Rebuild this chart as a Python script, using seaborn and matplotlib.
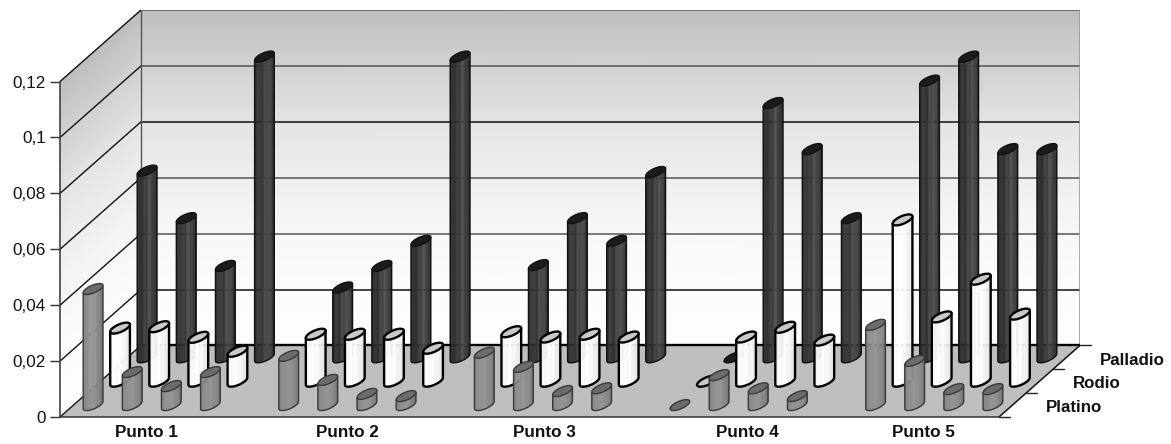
import numpy as np
import matplotlib
matplotlib.use('Agg')
import matplotlib.pyplot as plt
import seaborn as sns
from matplotlib.collections import PolyCollection

sns.set_theme(style='white', font='Liberation Sans')

nan = np.nan

# every point has 4 measurements and one empty slot
platino = [0.0415, 0.0118, 0.0068, 0.0118, nan,
           0.0176, 0.0090, 0.0040, 0.0032, nan,
           0.0187, 0.0137, 0.0050, 0.0060, nan,
           0.0000, 0.0107, 0.0060, 0.0032, nan,
           0.0287, 0.0158, 0.0057, 0.0057]
rodio = [0.0190, 0.0195, 0.0157, 0.0107, nan,
         0.0168, 0.0168, 0.0168, 0.0118, nan,
         0.0177, 0.0158, 0.0168, 0.0158, nan,
         0.0000, 0.0158, 0.0193, 0.0147, nan,
         0.0577, 0.0230, 0.0365, 0.0240]
palladio = [0.0668, 0.0498, 0.0327, 0.1076, nan,
            0.0250, 0.0327, 0.0417, 0.1076, nan,
            0.0330, 0.0498, 0.0417, 0.0663, nan,
            0.0000, 0.0910, 0.0745, 0.0498, nan,
            0.0990, 0.1076, 0.0745, 0.0745]

point_labels = ['Punto 1', 'Punto 2', 'Punto 3', 'Punto 4', 'Punto 5']
point_pos = [2.2, 7.34, 12.38, 17.57, 22.07]
y_ticks = [0, 0.02, 0.04, 0.06, 0.08, 0.1, 0.12]
y_labels = ['0', '0,02', '0,04', '0,06', '0,08', '0,1', '0,12']
grid_colors = ['#111111', '#111111', '#555555', '#555555', '#111111', '#555555', '#555555']

N = len(platino)
YMAX = 0.12
# oblique depth of the whole floor, in data units
DX = 81 / 39.125
DY = 71.5 / 2791.7

fig = plt.figure(figsize=(11.71, 4.44), dpi=100)
ax = fig.add_axes([60 / 1171, 27 / 444, (939 + 81) / 1171, (335 + 72) / 444])
ax.set_xlim(0, N + DX)
ax.set_ylim(0, YMAX + DY)
ax.patch.set_alpha(0)

# walls
wall_cmap = sns.blend_palette(['#ffffff', '#f8f8f8', '#e4e4e4', '#bebebe'], as_cmap=True)
s = np.linspace(0, YMAX, 30)
d = np.array([0, 1.0])
S, D = np.meshgrid(s, d)
ax.pcolormesh(D * DX, S + D * DY, S, cmap=wall_cmap, shading='gouraud', vmin=0, vmax=YMAX, zorder=1)
ax.pcolormesh(np.array([[DX, DX + N]] * 30), np.array([[v + DY, v + DY] for v in s]),
              np.array([[v, v] for v in s]), cmap=wall_cmap, shading='gouraud', vmin=0, vmax=YMAX, zorder=1)
ax.fill([0, N, N + DX, DX], [0, 0, DY, DY], color='#bebebe', lw=0, zorder=1.5)

# grid on the walls
for v, c in zip(y_ticks, grid_colors):
    if v > 0:
        ax.plot([DX, N + DX], [v + DY, v + DY], color=c, lw=1.1, zorder=2)
    ax.plot([0, DX], [v, v + DY], color='#111111', lw=1.0, zorder=2)
ax.plot([DX, DX], [DY, YMAX + DY], color='#555555', lw=1.0, zorder=2)
ax.plot([N + DX, N + DX], [DY, YMAX + DY], color='#999999', lw=1.2, zorder=2)
ax.plot([DX, N + DX], [DY, DY], color='#000000', lw=1.7, zorder=2)
ax.plot([N, N + DX], [0, DY], color='#111111', lw=1.1, zorder=2)

# ticks and names on the depth axis
for k in range(4):
    x0 = N + k / 3 * DX
    y0 = k / 3 * DY
    ax.plot([x0, x0 + 0.27], [y0, y0], color='#222222', lw=1.0, zorder=2, clip_on=False)
for k, name in enumerate(['Platino', 'Rodio', 'Palladio']):
    dep = (k + 0.5) / 3
    ax.annotate(name, (N + dep * DX, dep * DY), xytext=(24, -2), textcoords='offset points',
                ha='left', va='center', fontsize=12.2, fontweight='bold', color='#111111',
                annotation_clip=False)


def cylinder(ax, i, v, slot, shades, top, edge, lw, z):
    cx = i + 0.5 + (slot + 0.5) / 3 * DX
    cy = (slot + 0.5) / 3 * DY
    rx = 0.19
    vx = 0.24 * DX / 3
    vy = 0.23 * DY / 3
    t0 = np.arctan2(vx, rx)
    t = np.linspace(t0 + np.pi, t0 + 2 * np.pi, len(shades) + 1)
    xb = cx + rx * np.cos(t) + vx * np.sin(t)
    yb = cy + vy * np.sin(t)
    if v > 0:
        quads = [[(xb[k], yb[k]), (xb[k + 1], yb[k + 1]), (xb[k + 1], yb[k + 1] + v), (xb[k], yb[k] + v)]
                 for k in range(len(shades))]
        ax.add_collection(PolyCollection(quads, facecolors=shades, edgecolors=shades, linewidths=0.3, zorder=z))
        ax.plot(np.r_[xb[0], xb, xb[-1]], np.r_[yb[0] + v, yb, yb[-1] + v], color=edge, lw=lw, zorder=z + 0.1,
                solid_joinstyle='round')
    a = np.linspace(0, 2 * np.pi, 60)
    ax.fill(cx + rx * np.cos(a) + vx * np.sin(a), cy + v + vy * np.sin(a), facecolor=top, edgecolor=edge, lw=lw,
            zorder=z + 0.2)


dark = sns.blend_palette(['#2c2c2c', '#2e2e2e', '#303030', '#4a4a4a', '#343434', '#222222'], 24)
light = sns.blend_palette(['#e8e8e8', '#ffffff', '#ffffff', '#f0f0f0', '#dcdcdc'], 24)
mid = sns.blend_palette(['#7e7e7e', '#8a8a8a', '#949494', '#848484', '#6a6a6a'], 24)

series = [(palladio, 2, dark, '#1c1c1c', '#111111', 1.0, 3),
          (rodio, 1, light, '#c9c9c9', '#000000', 1.7, 4),
          (platino, 0, mid, '#6c6c6c', '#3a3a3a', 1.0, 5)]
for vals, slot, shades, top, edge, lw, z in series:
    for i, v in enumerate(vals):
        if not np.isnan(v):
            cylinder(ax, i, v, slot, shades, top, edge, lw, z)

for side in ['top', 'right']:
    ax.spines[side].set_visible(False)
ax.spines['left'].set_bounds(0, YMAX)
ax.spines['bottom'].set_bounds(0, N)
for side in ['left', 'bottom']:
    ax.spines[side].set_color('#333333')
    ax.spines[side].set_linewidth(1.1)

ax.set_yticks(y_ticks, y_labels, fontsize=12.3, color='#111111')
ax.set_xticks(point_pos, point_labels, fontsize=12.3, fontweight='bold', color='#111111')
ax.tick_params(axis='y', length=7.2, width=1, color='#333333', left=True, pad=3)
ax.tick_params(axis='x', length=0, pad=6)

plt.savefig('out.png', dpi=100)
